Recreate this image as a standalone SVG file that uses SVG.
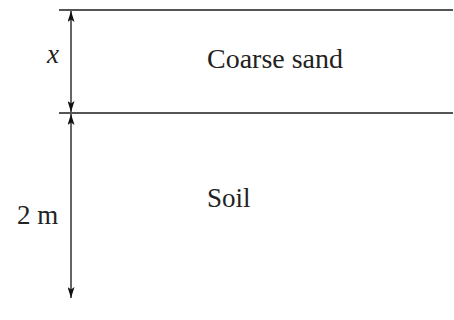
<svg xmlns="http://www.w3.org/2000/svg" width="454" height="320" viewBox="0 0 454 320">
<style>
.layer{stroke:#555;stroke-width:2;fill:none}
.dim{stroke:#111;stroke-width:1.3;fill:none}
.lbl{font-family:"Liberation Serif","Times New Roman",serif;font-size:27px;fill:#222}
.it{font-style:italic}
</style>
<defs>
<marker id="ah" viewBox="0 0 11 7" refX="11" refY="3.5" markerWidth="11" markerHeight="7" markerUnits="userSpaceOnUse" orient="auto-start-reverse">
<path d="M11,3.5 L0,0 L2.5,3.5 L0,7 Z" fill="#111"/>
</marker>
</defs>
<g id="layers">
<line class="layer" x1="59" y1="10" x2="453" y2="10"/>
<line class="layer" x1="59" y1="113" x2="453" y2="113"/>
</g>
<g id="connectors">
<line class="dim" x1="71" y1="11" x2="71" y2="112" marker-start="url(#ah)" marker-end="url(#ah)"/>
<line class="dim" x1="71" y1="114" x2="71" y2="298" marker-start="url(#ah)" marker-end="url(#ah)"/>
</g>
<g id="coarse-sand"><text class="lbl" x="207" y="68" textLength="136" lengthAdjust="spacingAndGlyphs">Coarse sand</text></g>
<g id="soil"><text class="lbl" x="207" y="207">Soil</text></g>
<g id="dim-x"><text class="lbl it" x="47" y="63">x</text></g>
<g id="dim-2m"><text class="lbl" x="17" y="224">2 m</text></g>
</svg>
